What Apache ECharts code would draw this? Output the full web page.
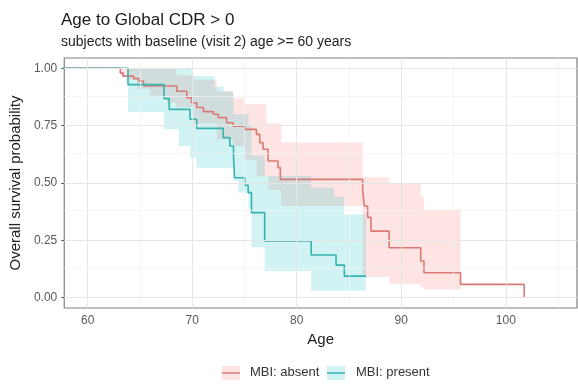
<!DOCTYPE html>
<html><head><meta charset="utf-8">
<script src="https://cdn.jsdelivr.net/npm/echarts@6/dist/echarts.min.js"></script>
<style>html,body{margin:0;padding:0;background:#fff}#c{width:578px;height:387px}</style>
</head><body><div id="c"></div>
<script>
const xTicks = [60, 70, 80, 90, 100];
const xMinor = [65, 75, 85, 95, 105];
const yTicks = [0, 0.25, 0.5, 0.75, 1];
const yMinor = [0.125, 0.375, 0.625, 0.875];
const groups = ['MBI: absent', 'MBI: present'];

// Kaplan-Meier step curves: survival value after each event age
const absentAge  = [50, 63.12, 63.38, 64.40, 64.88, 65.35, 68.52, 69.48, 69.95, 70.43, 71.07, 72.02, 72.50, 73.29, 73.92, 75.03, 76.14, 76.46, 76.78, 77.26, 78.21, 78.43, 86.30, 86.46, 86.78, 87.10, 88.84, 91.86, 92.17, 95.67, 101.76];
const absentSurv = [1, 0.98, 0.966, 0.955, 0.945, 0.923, 0.90, 0.872, 0.85, 0.829, 0.811, 0.80, 0.785, 0.763, 0.748, 0.734, 0.712, 0.676, 0.647, 0.596, 0.567, 0.516, 0.472, 0.40, 0.35, 0.29, 0.218, 0.16, 0.109, 0.058, 0];
const presentAge  = [50, 63.86, 67.31, 67.80, 69.79, 70.43, 72.97, 73.60, 73.95, 74.05, 75.03, 75.35, 75.67, 76.93, 81.38, 83.76, 84.55, 86.62];
const presentSurv = [1, 0.929, 0.868, 0.821, 0.778, 0.738, 0.698, 0.661, 0.617, 0.523, 0.49, 0.458, 0.371, 0.247, 0.186, 0.142, 0.094, 0.094];

// confidence bands: step start ages (last entry = end), lower / upper per step
const absentBandAge = [63.12, 63.76, 64.71, 65.95, 67.57, 68.52, 70.14, 72.33, 73.92, 75.0, 76.14, 77.09, 77.29, 78.52, 86.30, 88.84, 91.86, 92.17, 95.67];
const absentLower   = [0.97, 0.95, 0.91, 0.88, 0.85, 0.83, 0.76, 0.69, 0.66, 0.60, 0.53, 0.53, 0.47, 0.40, 0.09, 0.06, 0.045, 0.036];
const absentUpper   = [1, 1, 1, 1, 1, 0.97, 0.95, 0.90, 0.87, 0.843, 0.843, 0.76, 0.76, 0.677, 0.525, 0.50, 0.44, 0.385];
const presentBandAge = [63.86, 67.31, 68.71, 69.79, 69.95, 70.43, 72.14, 73.0, 73.95, 74.43, 75.38, 75.67, 76.93, 81.38, 83.57, 84.52, 86.62];
const presentLower   = [0.81, 0.734, 0.66, 0.61, 0.61, 0.567, 0.567, 0.567, 0.51, 0.458, 0.39, 0.22, 0.116, 0.03, 0.03, 0.03];
const presentUpper   = [1, 1, 1, 1, 0.966, 0.966, 0.92, 0.90, 0.80, 0.80, 0.75, 0.62, 0.53, 0.48, 0.44, 0.363];

const RED = '#d97a74', CYAN = '#35b3ae';
const RED_BAND = 'rgba(248,118,109,0.2)', CYAN_BAND = 'rgba(0,191,196,0.18)';
const FONT = '"Liberation Sans", Arial, sans-serif';

function zip(a, b) { return a.map((v, i) => [v, b[i]]); }
function bandRender(ages, lo, hi, color) {
  return function (params, api) {
    const pts = [];
    for (let i = 0; i < lo.length; i++) {
      pts.push(api.coord([ages[i], hi[i]]));
      pts.push(api.coord([ages[i + 1], hi[i]]));
    }
    for (let i = lo.length - 1; i >= 0; i--) {
      pts.push(api.coord([ages[i + 1], lo[i]]));
      pts.push(api.coord([ages[i], lo[i]]));
    }
    return { type: 'polygon', shape: { points: pts }, style: { fill: color }, silent: true };
  };
}

const gridLines = []
  .concat(xTicks.map(v => ({ xAxis: v, lineStyle: { color: '#e6e6e6', width: 1, type: 'solid' } })))
  .concat(xMinor.map(v => ({ xAxis: v, lineStyle: { color: '#f1f1f1', width: 0.7, type: 'solid' } })))
  .concat(yTicks.map(v => ({ yAxis: v, lineStyle: { color: '#e6e6e6', width: 1, type: 'solid' } })))
  .concat(yMinor.map(v => ({ yAxis: v, lineStyle: { color: '#f1f1f1', width: 0.7, type: 'solid' } })));

const chart = echarts.init(document.getElementById('c'), null, { renderer: 'canvas' });
chart.setOption({
  animation: false,
  backgroundColor: '#fff',
  textStyle: { fontFamily: FONT },
  title: [
    { text: 'Age to Global CDR > 0', left: 61, top: 12, padding: 0,
      textStyle: { fontSize: 17, fontWeight: 'normal', color: '#1a1a1a', fontFamily: FONT } },
    { text: 'subjects with baseline (visit 2) age >= 60 years', left: 61, top: 35, padding: 0,
      textStyle: { fontSize: 14, fontWeight: 'normal', color: '#222', fontFamily: FONT } }
  ],
  grid: { left: 62, top: 58, width: 515, height: 250, show: true, borderColor: '#808080', borderWidth: 1.2, backgroundColor: 'transparent', containLabel: false },
  xAxis: {
    type: 'value', min: 57.76, max: 106.81,
    name: 'Age', nameLocation: 'middle', nameGap: 23,
    nameTextStyle: { fontSize: 15, color: '#222', fontFamily: FONT },
    axisLine: { show: false },
    axisTick: { show: true, length: 3, lineStyle: { color: '#555' }, customValues: xTicks },
    axisLabel: { color: '#595959', fontSize: 12, margin: 7, customValues: xTicks, fontFamily: FONT },
    splitLine: { show: false }
  },
  yAxis: {
    type: 'value', min: -0.045, max: 1.045,
    name: 'Overall survival probability', nameLocation: 'middle', nameGap: 31,
    nameTextStyle: { fontSize: 15, color: '#222', fontFamily: FONT },
    axisLine: { show: false },
    axisTick: { show: true, length: 3, lineStyle: { color: '#555' }, customValues: yTicks },
    axisLabel: { color: '#595959', fontSize: 12, margin: 7, customValues: yTicks, fontFamily: FONT,
      formatter: v => v.toFixed(2) },
    splitLine: { show: false }
  },
  series: [
    { type: 'line', name: 'grid', data: [], z: 1, silent: true,
      markLine: { silent: true, symbol: ['none', 'none'], label: { show: false }, animation: false, data: gridLines } },
    { type: 'custom', name: groups[0] + ' band', z: 2, silent: true,
      data: [[absentBandAge[0], absentLower[0]]],
      renderItem: bandRender(absentBandAge, absentLower, absentUpper, RED_BAND) },
    { type: 'custom', name: groups[1] + ' band', z: 2, silent: true,
      data: [[presentBandAge[0], presentLower[0]]],
      renderItem: bandRender(presentBandAge, presentLower, presentUpper, CYAN_BAND) },
    { type: 'line', name: groups[0], step: 'end', z: 3, symbol: 'none', clip: true,
      data: zip(absentAge, absentSurv), lineStyle: { color: RED, width: 1.6 } },
    { type: 'line', name: groups[1], step: 'end', z: 3, symbol: 'none', clip: true,
      data: zip(presentAge, presentSurv), lineStyle: { color: CYAN, width: 1.6 } }
  ],
  graphic: [
    { type: 'rect', left: 222, top: 366, shape: { width: 18, height: 14 }, style: { fill: '#fde4e2' }, silent: true },
    { type: 'line', shape: { x1: 222, y1: 373, x2: 240, y2: 373 }, style: { stroke: RED, lineWidth: 1.5 }, silent: true },
    { type: 'text', left: 250, top: 366, style: { text: groups[0], fontSize: 13, fill: '#333', fontFamily: FONT } },
    { type: 'rect', left: 327, top: 366, shape: { width: 18, height: 14 }, style: { fill: '#d1f3f4' }, silent: true },
    { type: 'line', shape: { x1: 327, y1: 373, x2: 345, y2: 373 }, style: { stroke: CYAN, lineWidth: 1.5 }, silent: true },
    { type: 'text', left: 356, top: 366, style: { text: groups[1], fontSize: 13, fill: '#333', fontFamily: FONT } }
  ]
});
</script>
</body></html>
